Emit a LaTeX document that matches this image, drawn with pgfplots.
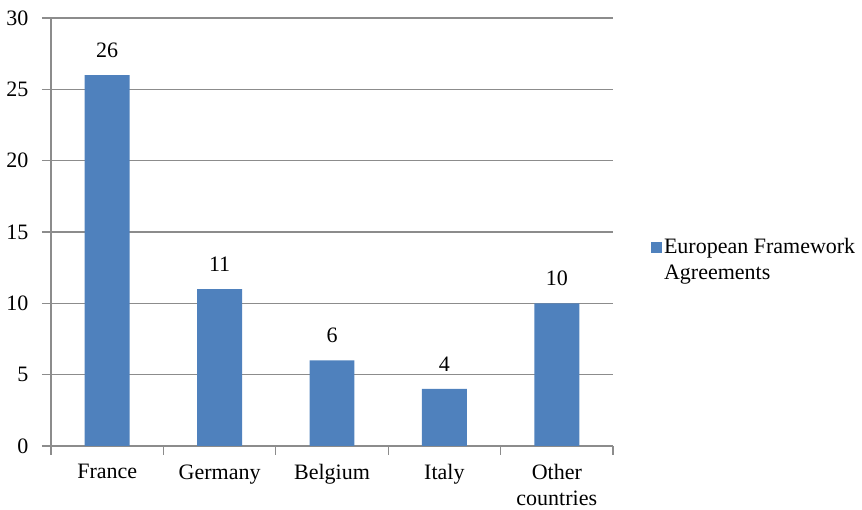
\documentclass[border=0pt]{standalone}
\usepackage{fontspec}
\setmainfont{Liberation Serif}
\usepackage{pgfplots}
\pgfplotsset{compat=1.18}
\definecolor{barblue}{HTML}{4F81BD}
\definecolor{gridgray}{HTML}{8C8C8C}
\begin{document}
\fontsize{22}{26}\selectfont
\begin{tikzpicture}
\useasboundingbox (-51pt,-64pt) rectangle (811pt,446pt);
\begin{axis}[
  at={(0,0)}, anchor=south west,
  scale only axis, width=562pt, height=428pt,
  /pgf/number format/assume math mode=true,
  ymin=0, ymax=30, ytick={0,5,...,30},
  xmin=-0.5, xmax=4.5,
  xtick={-0.5,0.5,...,4.5}, xticklabels={},
  extra x ticks={0,1,2,3,4},
  extra x tick labels={France,Germany,Belgium,Italy,{Other\\countries}},
  extra x tick style={major tick length=0pt, xticklabel style={yshift=-11pt}},
  xticklabel style={align=center},
  axis x line*=bottom, axis y line*=left,
  axis line style={gridgray, line width=1.3pt, -},
  ymajorgrids, grid style={gridgray, line width=1.3pt},
  tick align=outside, major tick length=9pt,
  tick style={gridgray, line width=1.3pt},
  yticklabel style={xshift=-6pt},
  ybar, bar width=0.4,
  legend style={draw=none, fill=none, at={(1.062,0.433)}, anchor=west,
    cells={align=left}},
  legend cell align=left,
  legend image code/.code={\fill[barblue] (0pt,7.5pt) rectangle (11pt,18.5pt);},
]
\addplot[fill=barblue, draw=none, nodes near coords,
  nodes near coords style={black, yshift=10pt}]
  coordinates {(0,26) (1,11) (2,6) (3,4) (4,10)};
\addlegendentry{European Framework\\Agreements}
\end{axis}
\end{tikzpicture}
\end{document}
